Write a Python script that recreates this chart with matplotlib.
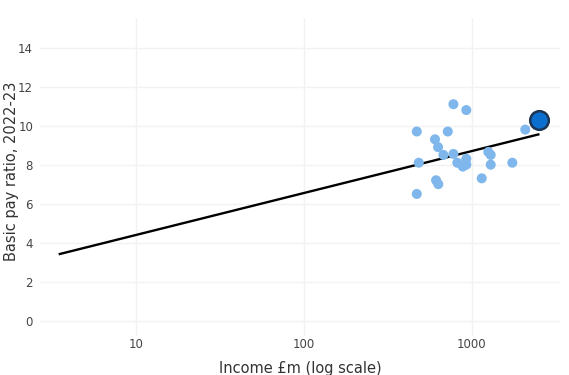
import matplotlib
matplotlib.use("Agg")
import matplotlib.pyplot as plt
from matplotlib.ticker import FixedLocator, NullLocator

# income (£m) and basic pay ratio for each organisation
income = [780, 931, 472, 722, 606, 632, 680, 780, 485, 823, 931,
          887, 931, 1259, 1301, 1301, 1750, 1150, 615, 634, 472, 2090]
ratio = [11.1, 10.8, 9.7, 9.7, 9.3, 8.9, 8.5, 8.55, 8.1, 8.1, 8.3,
         7.9, 8.0, 8.65, 8.5, 8.0, 8.1, 7.3, 7.2, 7.0, 6.5, 9.8]

# highlighted organisation
hl_income = [2520]
hl_ratio = [10.3]

# fitted trend line (log x)
trend_x = [3.53, 2500]
trend_y = [3.42, 9.55]

x_ticks = [10, 100, 1000]
x_ticklabels = ["10", "100", "1000"]
y_ticks = [0, 2, 4, 6, 8, 10, 12, 14]

plt.rcParams.update({"font.family": ["DejaVu Sans"]})

fig = plt.figure(figsize=(5.69, 3.75), dpi=100)
ax = fig.add_axes([40 / 569, 1 - 336.3 / 375, 520 / 569, (336.3 - 18.4) / 375])

ax.set_xscale("log")
ax.set_xlim(2.69, 3365)
ax.set_ylim(-0.8, 15.5)

ax.plot(trend_x, trend_y, color="black", linewidth=1.7, zorder=3)
ax.scatter(income, ratio, s=52, color="#7fb7ec", edgecolors="none", zorder=4)
ax.scatter(hl_income, hl_ratio, s=180, color="#0b6fd0", edgecolors="#1c3553",
           linewidths=1.8, zorder=5)

ax.xaxis.set_major_locator(FixedLocator(x_ticks))
ax.xaxis.set_minor_locator(NullLocator())
ax.set_xticklabels(x_ticklabels)
ax.set_yticks(y_ticks)

for s in ax.spines.values():
    s.set_visible(False)
ax.grid(True, color="#f2f2f2", linewidth=1)
ax.set_axisbelow(True)
ax.tick_params(axis="x", length=0, labelsize=8.5, colors="#444444", pad=1)
ax.tick_params(axis="y", length=0, labelsize=8.5, colors="#444444", pad=5)

fig.text(300 / 569, 1 - 368 / 375, "Income £m (log scale)", fontsize=10.5,
         color="#333333", ha="center", va="center")
fig.text(12 / 569, 1 - 171 / 375, "Basic pay ratio, 2022-23", fontsize=10.5,
         color="#333333", ha="center", va="center", rotation=90)

fig.savefig("out.png", dpi=100)
